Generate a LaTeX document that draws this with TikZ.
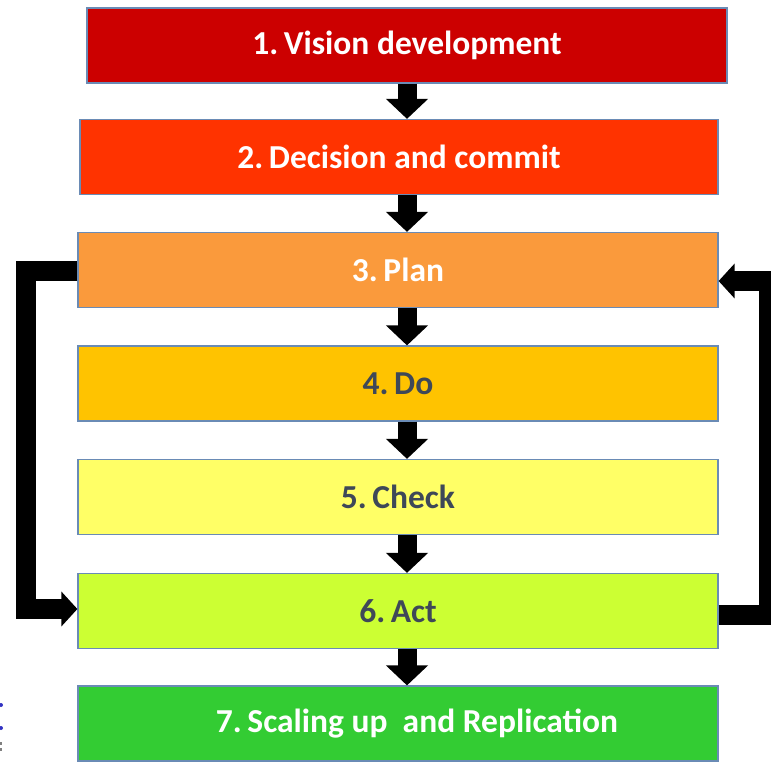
\documentclass[tikz,border=0pt]{standalone}
\usepackage{fontspec}
\setmainfont{Carlito}
\usetikzlibrary{arrows.meta}
\definecolor{c1}{HTML}{CC0000}
\definecolor{c2}{HTML}{FF3300}
\definecolor{c3}{HTML}{FA9A3C}
\definecolor{c4}{HTML}{FFC300}
\definecolor{c5}{HTML}{FFFF66}
\definecolor{c6}{HTML}{CCFF33}
\definecolor{c7}{HTML}{33CC33}
\definecolor{bord}{HTML}{6A8BB5}
\definecolor{dtext}{HTML}{3E4858}
\tikzset{
  stagebox/.style={draw=bord, line width=1.2pt, rectangle, inner sep=0pt,
    minimum width=640pt, minimum height=75pt,
    font=\fontsize{33.5}{38}\selectfont\bfseries},
  downarrow/.style={draw=black, line width=19pt,
    -{Triangle[width=41pt,length=20pt]}},
  looparrow/.style={draw=black, line width=20pt, line join=miter,
    -{Triangle[width=34pt,length=16pt]}},
}
\begin{document}
\begin{tikzpicture}[x=1pt,y=-1pt]
\useasboundingbox (0,0) rectangle (771,761);
\begin{scope}
\clip (0,0) rectangle (771,761);
\node[stagebox, fill=c1, text=white] (b1) at (407,45.5) {1.\,Vision development};
\node[stagebox, fill=c2, text=white, minimum width=638pt] (b2) at (399,157) {2.\,Decision and commit};
\node[stagebox, fill=c3, text=white] (b3) at (398,270) {3.\,Plan};
\node[stagebox, fill=c4, text=dtext] (b4) at (398,383.5) {4.\,Do};
\node[stagebox, fill=c5, text=dtext] (b5) at (398,497) {5.\,Check};
\node[stagebox, fill=c6, text=dtext] (b6) at (398,611) {6.\,Act};
\node[stagebox, fill=c7, text=white] (b7) at (398,723.5) {\hspace*{38pt}7.\,Scaling up\ \ and Replication};

\draw[downarrow] (b1.south) -- (b1.south |- b2.north);
\draw[downarrow] (b1.south |- b2.south) -- (b1.south |- b3.north);
\draw[downarrow] (b1.south |- b3.south) -- (b1.south |- b4.north);
\draw[downarrow] (b1.south |- b4.south) -- (b1.south |- b5.north);
\draw[downarrow] (b1.south |- b5.south) -- (b1.south |- b6.north);
\draw[downarrow] (b1.south |- b6.south) -- (b1.south |- b7.north);

\coordinate (lx) at (26,0);
\coordinate (rx) at (769,0);
\coordinate (ltop) at ([yshift=-0.5pt]b3.west);
\coordinate (lbot) at ([yshift=2pt]b6.west);
\coordinate (rtop) at ([yshift=-11pt]b3.east);
\coordinate (rbot) at ([yshift=-4pt]b6.east);
\draw[looparrow] (ltop) -| (lx |- lbot) -- (lbot);
\draw[looparrow] (rbot) -| (rx |- rtop) -- (rtop);

\fill[blue!70!black!80] (1,705) circle (2pt);
\fill[blue!70!black!80] (1,728) circle (2pt);
\fill[gray] (0,742) rectangle (2,745);
\fill[gray] (0,748) rectangle (2,751);
\end{scope}
\end{tikzpicture}
\end{document}
